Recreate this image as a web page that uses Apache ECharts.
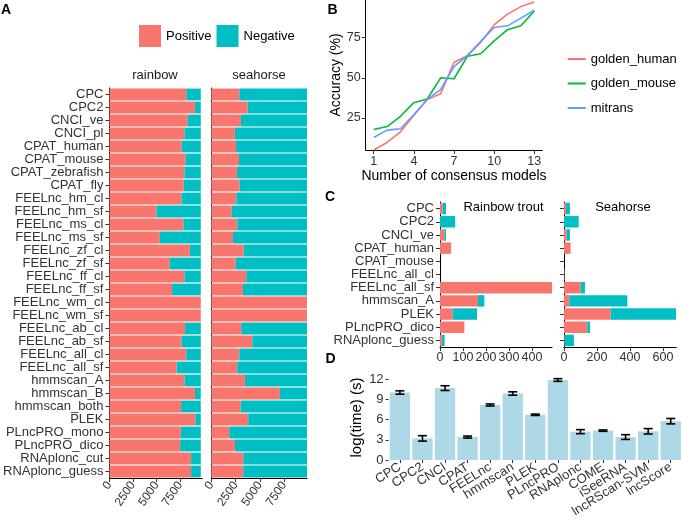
<!DOCTYPE html>
<html><head><meta charset="utf-8">
<script src="https://cdn.jsdelivr.net/npm/echarts@6/dist/echarts.min.js"></script>
<style>html,body{margin:0;padding:0;background:#fff}#c{width:682px;height:521px}</style>
</head><body><div id="c"></div>
<script>
// ---------- Panel A ----------
const methodsA = ['CPC','CPC2','CNCI_ve','CNCI_pl','CPAT_human','CPAT_mouse','CPAT_zebrafish','CPAT_fly',
 'FEELnc_hm_cl','FEELnc_hm_sf','FEELnc_ms_cl','FEELnc_ms_sf','FEELnc_zf_cl','FEELnc_zf_sf','FEELnc_ff_cl','FEELnc_ff_sf',
 'FEELnc_wm_cl','FEELnc_wm_sf','FEELnc_ab_cl','FEELnc_ab_sf','FEELnc_all_cl','FEELnc_all_sf',
 'hmmscan_A','hmmscan_B','hmmscan_both','PLEK','PLncPRO_mono','PLncPRO_dico','RNAplonc_cut','RNAplonc_guess'];
const rainbowPos = [8160,9090,8300,7960,7680,8090,7960,7890,7650,5000,7850,5350,8540,6380,7960,6650,9700,9700,8030,7650,8160,7130,7960,9090,7610,9120,7580,7510,8670,8670];
const rainbowNeg = [1540,610,1400,1740,2020,1610,1740,1810,2050,4700,1850,4350,1160,3320,1740,3050,0,0,1670,2050,1540,2570,1740,610,2090,580,2120,2190,1030,1030];
const seahorsePos = [2880,3740,3050,2430,2540,2850,2640,2920,2570,2100,2670,2230,3330,2510,3600,3260,9850,9850,3080,4210,2880,2670,3460,7060,3020,3800,1850,2440,3290,3290];
const seahorseNeg = [6970,6110,6800,7420,7310,7000,7210,6930,7280,7750,7180,7620,6520,7340,6250,6590,0,0,6770,5640,6970,7180,6390,2790,6830,6050,8000,7410,6560,6560];
const ticksA = [0,2500,5000,7500];
const facetsA = ['rainbow','seahorse'];

// ---------- Panel B ----------
const consensusN = [1,2,3,4,5,6,7,8,9,10,11,12,13];
const goldenHuman = [5.0,9.7,16.3,26.7,36.4,40.0,59.7,63.8,72.1,83.0,89.7,94.4,97.3];
const goldenMouse = [17.8,19.6,26.0,34.5,36.8,50.0,49.4,63.4,65.0,73.0,80.0,82.4,91.7];
const mitrans     = [12.8,17.4,18.2,27.0,36.6,42.6,57.0,63.8,72.7,81.4,82.4,87.2,92.1];
const ticksBx = [1,4,7,10,13];
const ticksBy = [25,50,75];

// ---------- Panel C ----------
const methodsC = ['CPC','CPC2','CNCI_ve','CPAT_human','CPAT_mouse','FEELnc_all_cl','FEELnc_all_sf','hmmscan_A','PLEK','PLncPRO_dico','RNAplonc_guess'];
const troutPosC = [12,0,19,48,0,0,487,165,55,106,9];
const troutNegC = [14,66,7,0,0,0,0,28,106,0,11];
const seahorsePosC = [12,0,16,40,0,3,101,32,283,141,4];
const seahorseNegC = [24,89,20,0,0,0,26,352,396,17,56];
const ticksCtrout = [0,100,200,300,400];
const ticksCsea = [0,200,400,600];

// ---------- Panel D ----------
const toolsD = ['CPC','CPC2','CNCI','CPAT','FEELnc','hmmscan','PLEK','PLncPRO','RNAplonc','COME','iSeeRNA','lncRScan-SVM','lncScore'];
const timeMean = [10.0,3.2,10.65,3.4,8.15,9.85,6.7,11.85,4.2,4.35,3.4,4.25,5.75];
const timeErr  = [0.25,0.4,0.35,0.15,0.15,0.25,0.1,0.2,0.3,0.1,0.35,0.4,0.4];
const ticksD = [0,3,6,9,12];

const POS = '#F8766D', NEG = '#00BFC4';
const FONT = 'Liberation Sans, Arial, sans-serif';
const TXT = '#333333';
const plain = v => String(v);

function valAxis(grid, max, ticks, opts) {
  return Object.assign({
    type:'value', gridIndex:grid, min:0, max:max,
    axisLine:{show:true, lineStyle:{color:'#000', width:1}},
    axisTick:{show:true, length:4, customValues:ticks, lineStyle:{color:'#333'}},
    axisLabel:{customValues:ticks, formatter:plain, color:TXT, fontSize:12.5, fontFamily:FONT, margin:4},
    splitLine:{show:false}
  }, opts||{});
}
function catAxis(grid, data, showLabels, showTicks) {
  return {
    type:'category', gridIndex:grid, data:data, inverse:true,
    axisLine:{show:true, lineStyle:{color:'#000', width:1}},
    axisTick:{show:showTicks, length:4, alignWithLabel:true, lineStyle:{color:'#333'}},
    axisLabel:{show:showLabels, interval:0, color:TXT, fontSize:13, fontFamily:FONT, margin:6},
    splitLine:{show:false}
  };
}

const option = {
  animation:false,
  backgroundColor:'#fff',
  textStyle:{fontFamily:FONT},
  grid:[
    {left:106.5, top:88, width:95.7, height:390},
    {left:211.3, top:88, width:95.7, height:390},
    {left:365.7, top:0, width:176.6, height:150},
    {left:440, top:202, width:112, height:145},
    {left:564, top:202, width:112.2, height:145},
    {left:388.6, top:374.95, width:296.4, height:85.05}
  ],
  xAxis:[
    valAxis(0, 9850, ticksA, {axisLabel:{customValues:ticksA, formatter:plain, color:TXT, fontSize:12, fontFamily:FONT, rotate:55, margin:5}}),
    valAxis(1, 9850, ticksA, {axisLabel:{customValues:ticksA, formatter:plain, color:TXT, fontSize:12, fontFamily:FONT, rotate:55, margin:5}}),
    {type:'value', gridIndex:2, min:0.4, max:13.6,
      name:'Number of consensus models', nameLocation:'middle', nameGap:17,
      nameTextStyle:{fontSize:14, color:'#000', fontFamily:FONT},
      axisLine:{show:true, lineStyle:{color:'#000'}},
      axisTick:{show:true, length:4, customValues:ticksBx, lineStyle:{color:'#333'}},
      axisLabel:{customValues:ticksBx, formatter:plain, color:TXT, fontSize:12.5, fontFamily:FONT, margin:5},
      splitLine:{show:false}},
    valAxis(3, 487, ticksCtrout),
    valAxis(4, 680, ticksCsea),
    {type:'category', gridIndex:5, data:toolsD,
      axisLine:{show:false},
      axisTick:{show:true, length:3, alignWithLabel:true, lineStyle:{color:'#333'}},
      axisLabel:{interval:0, rotate:32, color:TXT, fontSize:13, fontFamily:FONT, margin:6},
      splitLine:{show:false}}
  ],
  yAxis:[
    catAxis(0, methodsA, true, true),
    catAxis(1, methodsA, false, false),
    {type:'value', gridIndex:2, min:5, max:98.5,
      name:'Accuracy (%)', nameLocation:'middle', nameGap:22, nameRotate:90,
      nameTextStyle:{fontSize:14, color:'#000', fontFamily:FONT},
      axisLine:{show:true, lineStyle:{color:'#000'}},
      axisTick:{show:true, length:4, customValues:ticksBy, lineStyle:{color:'#333'}},
      axisLabel:{customValues:ticksBy, formatter:plain, color:TXT, fontSize:12.5, fontFamily:FONT, margin:5},
      splitLine:{show:false}},
    catAxis(3, methodsC, true, true),
    catAxis(4, methodsC, false, true),
    {type:'value', gridIndex:5, min:0, max:12.6,
      name:'log(time) (s)', nameLocation:'middle', nameGap:24, nameRotate:90,
      nameTextStyle:{fontSize:15, color:'#000', fontFamily:FONT},
      axisLine:{show:false},
      axisTick:{show:true, length:3, customValues:ticksD, lineStyle:{color:'#333'}},
      axisLabel:{customValues:ticksD, formatter:plain, color:TXT, fontSize:13, fontFamily:FONT, margin:5},
      splitLine:{show:false}}
  ],
  legend:[
    {data:['Positive','Negative'], left:134, top:20, icon:'rect', itemWidth:22, itemHeight:22, itemGap:5,
      textStyle:{fontSize:13, color:'#000', fontFamily:FONT}, selectedMode:false},
    {data:['golden_human','golden_mouse','mitrans'], orient:'vertical', left:562.7, top:46, icon:'rect',
      itemWidth:18, itemHeight:2, itemGap:8.5,
      textStyle:{fontSize:13, color:'#000', fontFamily:FONT, lineHeight:16}, selectedMode:false}
  ],
  graphic:[
    {type:'text', x:6, y:10.5, style:{text:'A', font:'bold 14px '+FONT, fill:'#000', align:'center', verticalAlign:'middle'}},
    {type:'text', x:332.5, y:10.5, style:{text:'B', font:'bold 14px '+FONT, fill:'#000', align:'center', verticalAlign:'middle'}},
    {type:'text', x:330, y:197, style:{text:'C', font:'bold 14px '+FONT, fill:'#000', align:'center', verticalAlign:'middle'}},
    {type:'text', x:330.5, y:359.5, style:{text:'D', font:'bold 14px '+FONT, fill:'#000', align:'center', verticalAlign:'middle'}},
    {type:'text', x:155, y:75, style:{text:facetsA[0], font:'13px '+FONT, fill:'#1a1a1a', align:'center', verticalAlign:'middle'}},
    {type:'text', x:259, y:75, style:{text:facetsA[1], font:'13px '+FONT, fill:'#1a1a1a', align:'center', verticalAlign:'middle'}},
    {type:'text', x:503.5, y:207.5, style:{text:'Rainbow trout', font:'13px '+FONT, fill:'#000', align:'center', verticalAlign:'middle'}},
    {type:'text', x:623, y:207.5, style:{text:'Seahorse', font:'13px '+FONT, fill:'#000', align:'center', verticalAlign:'middle'}}
  ],
  series:[
    {type:'bar', name:'Positive', xAxisIndex:0, yAxisIndex:0, stack:'a0', data:rainbowPos, itemStyle:{color:POS}, barWidth:'91%'},
    {type:'bar', name:'Negative', xAxisIndex:0, yAxisIndex:0, stack:'a0', data:rainbowNeg, itemStyle:{color:NEG}, barWidth:'91%'},
    {type:'bar', name:'Positive', xAxisIndex:1, yAxisIndex:1, stack:'a1', data:seahorsePos, itemStyle:{color:POS}, barWidth:'91%'},
    {type:'bar', name:'Negative', xAxisIndex:1, yAxisIndex:1, stack:'a1', data:seahorseNeg, itemStyle:{color:NEG}, barWidth:'91%'},

    {type:'line', name:'golden_human', xAxisIndex:2, yAxisIndex:2, data:consensusN.map((n,i)=>[n, goldenHuman[i]]), showSymbol:false, lineStyle:{width:1.6, color:'#F8766D'}, itemStyle:{color:'#F8766D'}},
    {type:'line', name:'golden_mouse', xAxisIndex:2, yAxisIndex:2, data:consensusN.map((n,i)=>[n, goldenMouse[i]]), showSymbol:false, lineStyle:{width:1.6, color:'#00BA38'}, itemStyle:{color:'#00BA38'}},
    {type:'line', name:'mitrans', xAxisIndex:2, yAxisIndex:2, data:consensusN.map((n,i)=>[n, mitrans[i]]), showSymbol:false, lineStyle:{width:1.6, color:'#619CFF'}, itemStyle:{color:'#619CFF'}},

    {type:'bar', name:'Positive', xAxisIndex:3, yAxisIndex:3, stack:'c0', data:troutPosC, itemStyle:{color:POS}, barWidth:'87%'},
    {type:'bar', name:'Negative', xAxisIndex:3, yAxisIndex:3, stack:'c0', data:troutNegC, itemStyle:{color:NEG}, barWidth:'87%'},
    {type:'bar', name:'Positive', xAxisIndex:4, yAxisIndex:4, stack:'c1', data:seahorsePosC, itemStyle:{color:POS}, barWidth:'87%'},
    {type:'bar', name:'Negative', xAxisIndex:4, yAxisIndex:4, stack:'c1', data:seahorseNegC, itemStyle:{color:NEG}, barWidth:'87%'},

    {type:'bar', name:'time', xAxisIndex:5, yAxisIndex:5, data:timeMean, itemStyle:{color:'#ADD8E6'}, barWidth:'90%'},
    {type:'custom', name:'err', xAxisIndex:5, yAxisIndex:5, z:10,
      encode:{x:0, y:[1,2]},
      data:toolsD.map((t,i)=>[i, timeMean[i]-timeErr[i], timeMean[i]+timeErr[i]]),
      renderItem:function(params, api){
        const xi = api.value(0);
        const lo = api.coord([xi, api.value(1)]);
        const hi = api.coord([xi, api.value(2)]);
        const w = 4.5;
        const st = {stroke:'#000', lineWidth:1.6};
        return {type:'group', children:[
          {type:'line', shape:{x1:lo[0], y1:lo[1], x2:hi[0], y2:hi[1]}, style:st},
          {type:'line', shape:{x1:lo[0]-w, y1:lo[1], x2:lo[0]+w, y2:lo[1]}, style:st},
          {type:'line', shape:{x1:hi[0]-w, y1:hi[1], x2:hi[0]+w, y2:hi[1]}, style:st}
        ]};
      }}
  ]
};
const chart = echarts.init(document.getElementById('c'), null, {renderer:'canvas'});
chart.setOption(option);
</script>
</body></html>
